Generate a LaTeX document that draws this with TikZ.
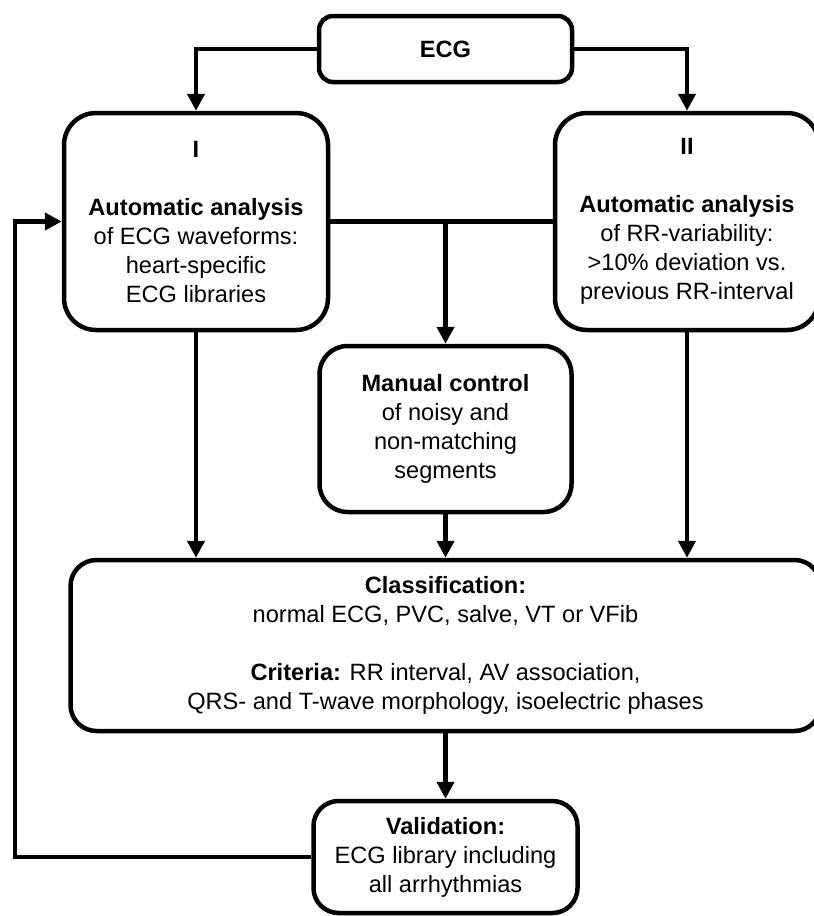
\documentclass[tikz,border=0pt]{standalone}
\usepackage{fontspec}
\setmainfont{Liberation Sans}
\usetikzlibrary{arrows.meta}
\tikzset{
  box/.style={draw=black, line width=4.5pt, fill=white, align=center, inner sep=0pt,
    font=\fontsize{23.6}{29}\selectfont},
  conn/.style={draw=black, line width=4.5pt, -{Triangle[length=17pt,width=17pt]}},
  plain/.style={draw=black, line width=4.5pt},
}
\begin{document}
\begin{tikzpicture}[x=1pt,y=-1pt]
\useasboundingbox (0,0) rectangle (814,916);
\node[box, rounded corners=14pt, minimum width=253pt, minimum height=66pt] (ecg) at (445.5,49) {\textbf{ECG}};
\node[box, rounded corners=32pt, minimum width=264pt, minimum height=217pt] (b1) at (196,221.5)
  {\textbf{I}\\[29pt]\textbf{Automatic analysis}\\of ECG waveforms:\\heart-specific\\ECG libraries};
\node[box, rounded corners=32pt, minimum width=264pt, minimum height=217pt] (b2) at (687,221.5)
  {\textbf{II}\\[29pt]\textbf{Automatic analysis}\\of RR-variability:\\>10\% deviation vs.\\previous RR-interval};
\node[box, rounded corners=28pt, minimum width=252pt, minimum height=166pt] (man) at (445.5,429)
  {\textbf{Manual control}\\of noisy and\\non-matching\\segments};
\node[box, rounded corners=26pt, minimum width=750pt, minimum height=171pt] (cls) at (445.5,645.5)
  {\textbf{Classification:}\\normal ECG, PVC, salve, VT or VFib\\[29pt]\textbf{Criteria:} RR interval, AV association,\\QRS- and T-wave morphology, isoelectric phases};
\node[box, rounded corners=25pt, minimum width=264pt, minimum height=112pt] (val) at (445.5,857)
  {\textbf{Validation:}\\ECG library including\\all arrhythmias};
\coordinate (fb) at (15,0);
\draw[conn] (ecg.west) -| (b1.north);
\draw[conn] (ecg.east) -| (b2.north);
\draw[plain] (b1.east) -- (b2.west);
\coordinate (j) at (b1.east -| man.north);
\draw[conn] (j) -- (man.north);
\draw[conn] (b1.south) -- (b1.south |- cls.north);
\draw[conn] (b2.south) -- (b2.south |- cls.north);
\draw[conn] (man.south) -- (man.south |- cls.north);
\draw[conn] (val.north |- cls.south) -- (val.north);
\draw[conn] (val.west) -- (val.west -| fb) |- (b1.west);
\end{tikzpicture}
\end{document}
